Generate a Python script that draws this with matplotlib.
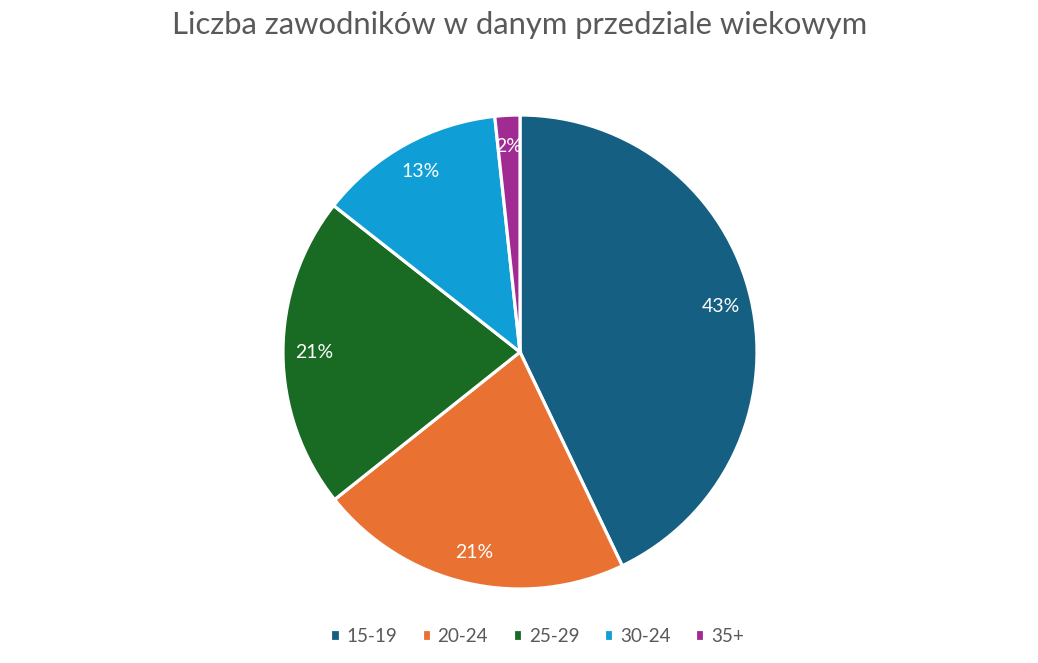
import matplotlib as mpl
mpl.use('Agg')
import matplotlib.pyplot as plt

categories = ["15-19", "20-24", "25-29", "30-24", "35+"]
shares = [42.9, 21.4, 21.3, 12.7, 1.7]
colors = ["#156082", "#E97132", "#196B24", "#0F9ED5", "#A02B93"]
title = "Liczba zawodników w danym przedziale wiekowym"

plt.rcParams['font.family'] = ['Lato', 'DejaVu Sans']

fig = plt.figure(figsize=(10.38, 6.63), dpi=100)
# pie centre ~ (520, 352) px, radius ~ 237 px
ax = fig.add_axes([(520 - 237) / 1038, 1 - (352 + 237) / 663, 474 / 1038, 474 / 663])

wedges, texts, autotexts = ax.pie(
    shares, colors=colors, startangle=90, counterclock=False,
    autopct='%.0f%%', pctdistance=0.87,
    wedgeprops=dict(edgecolor='white', linewidth=2.3),
    textprops=dict(color='white', fontsize=14))
ax.set_aspect('equal')
ax.set_xlim(-1, 1)
ax.set_ylim(-1, 1)

fig.text(520 / 1038, 1 - 25 / 663, title, ha='center', va='center',
         fontsize=22.3, color='#595959')

fig.legend(wedges, categories, loc='center', bbox_to_anchor=(537 / 1038, 1 - 636 / 663),
           ncol=5, frameon=False, fontsize=13.6, labelcolor='#595959',
           handlelength=0.5, handleheight=0.55, handletextpad=0.35, columnspacing=1.3)

fig.savefig("out.png", dpi=100)
